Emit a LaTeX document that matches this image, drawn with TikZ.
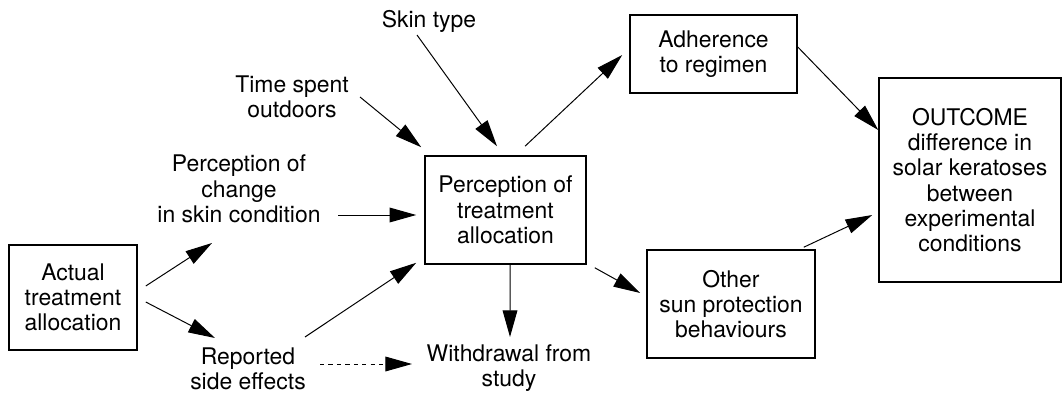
\documentclass[tikz,border=0pt]{standalone}
\usepackage{fontspec}
\setmainfont{TeX Gyre Heros}
\usepackage{tikz}
\usetikzlibrary{arrows.meta,calc,positioning}

\begin{document}
\begin{tikzpicture}[x=0.025cm,y=-0.025cm,
  txt/.style={align=center,inner sep=0pt,font=\fontsize{16.3}{18}\selectfont},
  box/.style={txt,draw,line width=1.1pt},
  arr/.style={line width=0.7pt,-{Triangle[length=19pt,width=10.5pt]}}]
  \useasboundingbox (0,0) rectangle (1063,393);
  \node[box,minimum width=128*0.025cm,minimum height=105*0.025cm] (actual) at (73,297.5) {Actual\\treatment\\allocation};
  \node[box,minimum width=161*0.025cm,minimum height=108*0.025cm] (percep) at (505.5,210) {Perception of\\treatment\\allocation};
  \node[box,minimum width=167*0.025cm,minimum height=78*0.025cm] (adher) at (713.5,54) {Adherence\\to regimen};
  \node[box,minimum width=168*0.025cm,minimum height=108*0.025cm] (other) at (731,304) {Other\\sun protection\\behaviours};
  \node[box,minimum width=182*0.025cm,minimum height=204*0.025cm] (outcome) at (970,180) {OUTCOME\\difference in\\solar keratoses\\between\\experimental\\conditions};
  \node[txt] (change) at (239,189) {Perception of\\change\\in skin condition};
  \node[txt] (time) at (292,97) {Time spent\\outdoors};
  \node[txt] (skin) at (429,21) {Skin type};
  \node[txt] (reported) at (248,369) {Reported\\side effects};
  \node[txt] (withdraw) at (509,368) {Withdrawal from\\study};

  \draw[arr] ([shift={(8,-11.5)}]actual.east) -- ([shift={(-27,54)}]change.center);
  \draw[arr] ([shift={(8,4.5)}]actual.east) -- ([shift={(-33,-31)}]reported.center);
  \draw[arr] ([shift={(57,-32)}]reported.center) -- ([shift={(-8,-2)}]percep.south west);
  \draw[arr,dashed,dash pattern=on 3pt off 3pt] ([shift={(72,-5)}]reported.center) -- ([shift={(-97,-4)}]withdraw.center);
  \draw[arr] ([shift={(99,26)}]change.center) -- ([shift={(-8,5)}]percep.west);
  \draw[arr] ([shift={(68,0)}]time.center) -- ([shift={(-3,-8)}]percep.north west);
  \draw[arr] ([shift={(-12,14)}]skin.center) -- ([shift={(-8.5,-9)}]percep.north);
  \draw[arr] ([shift={(19.5,-9)}]percep.north) -- ([shift={(-7,1)}]adher.west);
  \draw[arr] ([shift={(4.5,0)}]percep.south) -- ([shift={(1,-31)}]withdraw.center);
  \draw[arr] ([shift={(8,3)}]percep.south east) -- ([shift={(-6,-11)}]other.west);
  \draw[arr] ([shift={(0,-7)}]adher.east) -- ([shift={(0,-50)}]outcome.west);
  \draw[arr] ([shift={(-12,-2)}]other.north east) -- ([shift={(-6,35)}]outcome.west);
\end{tikzpicture}
\end{document}
